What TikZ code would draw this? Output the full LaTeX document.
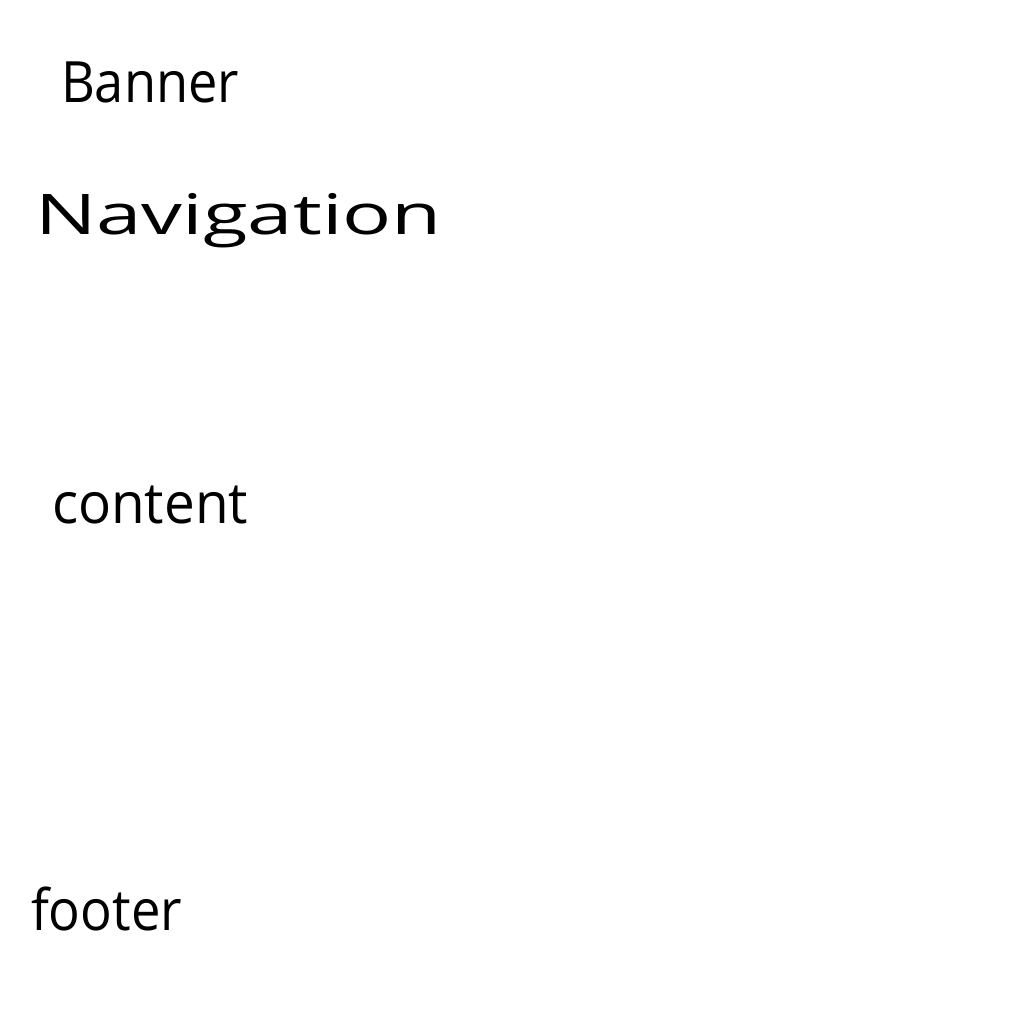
\documentclass[tikz,border=0pt]{standalone}
\usepackage{fontspec}
\setmainfont{Open Sans}
\usepackage{graphicx}
\begin{document}
\begin{tikzpicture}[x=1pt,y=1pt,
  lbl/.style={anchor=base west,inner sep=0pt,outer sep=0pt,text=black}]
\useasboundingbox[fill=white] (0,0) rectangle (1024,-1024);
\node[lbl] (banner) at (61,-103) {\resizebox{178pt}{\height}{\fontsize{57pt}{60pt}\selectfont Banner}};
\node[lbl] (nav) at (35,-235) {\resizebox{407pt}{\height}{\fontsize{56pt}{60pt}\selectfont Navigation}};
\node[lbl] (content) at (52,-523) {\resizebox{196pt}{\height}{\fontsize{57pt}{60pt}\selectfont content}};
\node[lbl] (footer) at (31,-930) {\resizebox{151pt}{\height}{\fontsize{57pt}{60pt}\selectfont footer}};
\end{tikzpicture}
\end{document}
